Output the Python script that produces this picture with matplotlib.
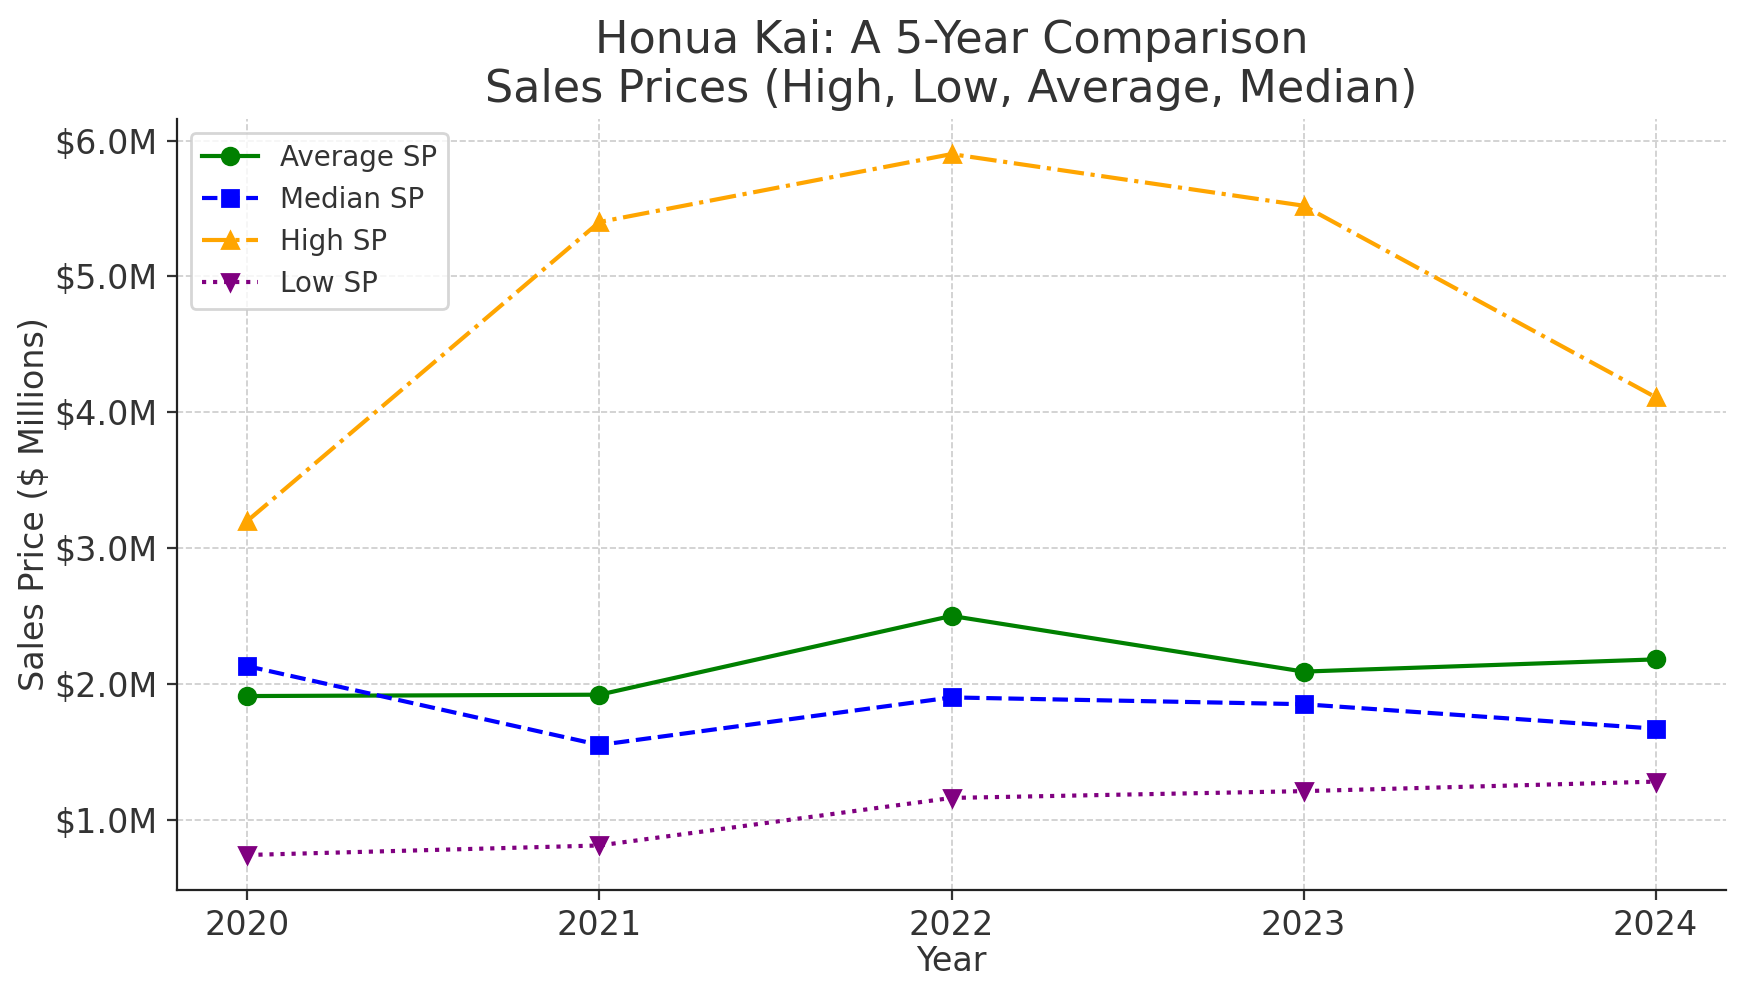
import matplotlib
matplotlib.use("Agg")
import matplotlib.pyplot as plt
from matplotlib.ticker import FuncFormatter

years = [2020, 2021, 2022, 2023, 2024]
average_sp = [1.91, 1.92, 2.50, 2.09, 2.18]
median_sp = [2.13, 1.55, 1.90, 1.85, 1.67]
high_sp = [3.20, 5.40, 5.90, 5.52, 4.11]
low_sp = [0.74, 0.81, 1.16, 1.21, 1.28]

txt = '#333333'
plt.rcParams['text.color'] = txt
plt.rcParams['axes.labelcolor'] = txt
plt.rcParams['xtick.color'] = txt
plt.rcParams['ytick.color'] = txt
plt.rcParams['axes.edgecolor'] = '#222222'

fig = plt.figure(figsize=(8.735, 4.985), dpi=200)
ax = fig.add_axes([0.1013, 0.1073, 0.8867, 0.7733])

ax.plot(years, average_sp, marker='o', linestyle='-', color='green', label='Average SP')
ax.plot(years, median_sp, marker='s', linestyle='--', color='blue', label='Median SP', markersize=5.5)
ax.plot(years, high_sp, marker='^', linestyle='-.', color='orange', label='High SP', markersize=5.5)
ax.plot(years, low_sp, marker='v', linestyle=':', color='purple', label='Low SP', markersize=5.5)

ax.set_title('Honua Kai: A 5-Year Comparison\nSales Prices (High, Low, Average, Median)', fontsize=16)
ax.set_xlabel('Year', fontsize=12, labelpad=1)
ax.set_ylabel('Sales Price ($ Millions)', fontsize=12, labelpad=1)
ax.set_xticks(years)
ax.yaxis.set_major_formatter(FuncFormatter(lambda v, p: '${:.1f}M'.format(v)))
ax.tick_params(labelsize=12)
ax.grid(True, linestyle='--', color='#cccccc', linewidth=0.6)
ax.spines['top'].set_visible(False)
ax.spines['right'].set_visible(False)
ax.legend(loc='upper left', fontsize=10)

fig.savefig('out.png', dpi=200)
